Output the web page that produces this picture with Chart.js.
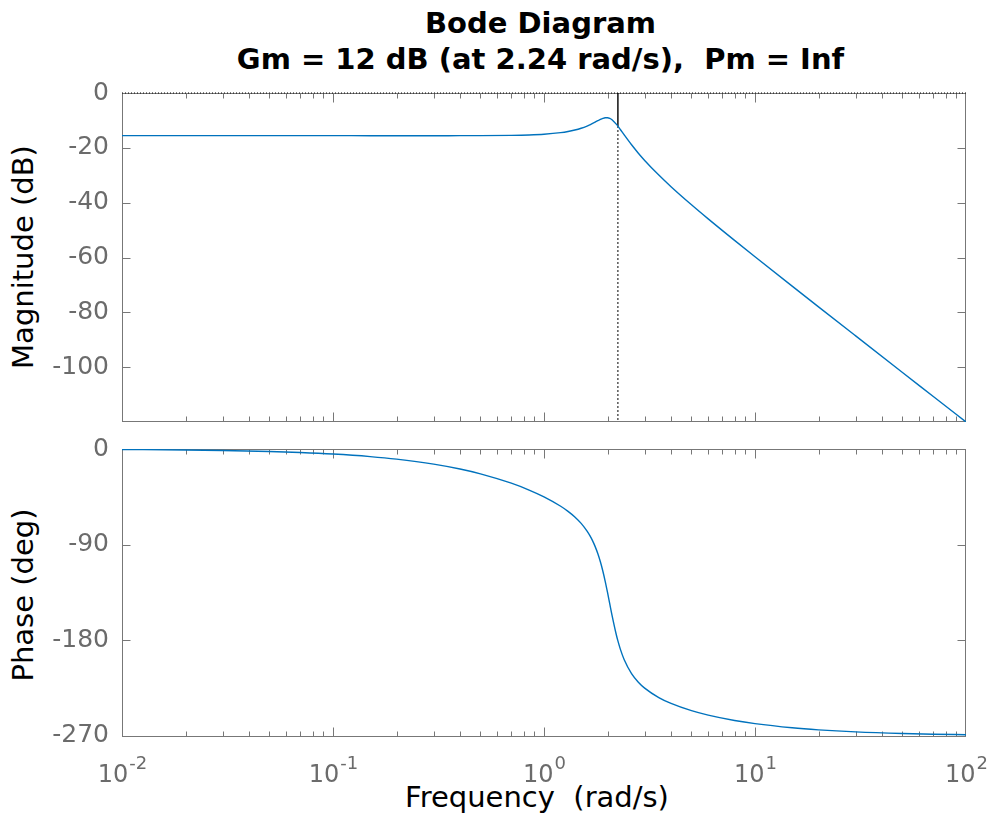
<!DOCTYPE html>
<html>
<head>
<meta charset="utf-8">
<script src="https://cdn.jsdelivr.net/npm/chart.js@4.4.1/dist/chart.umd.min.js"></script>
<style>
  body { margin: 0; background: #fff; width: 993px; height: 818px; overflow: hidden; position: relative; font-family: "DejaVu Sans", sans-serif; }
  canvas { position: absolute; left: 0; top: 0; }
  .title { position: absolute; left: 0; top: 5px; width: 1081px; text-align: center; font-weight: bold; font-size: 29px; line-height: 36px; color: #000; white-space: pre; }
  .lab { position: absolute; font-size: 29px; line-height: 29px; color: #000; white-space: pre; transform: translate(-50%, -50%); }
  .lab.rot { transform: translate(-50%, -50%) rotate(-90deg); }
</style>
</head>
<body>
<div class="title">Bode Diagram<br>Gm = 12 dB (at 2.24 rad/s),  Pm = Inf</div>
<div class="lab rot" style="left:23px; top:257px;">Magnitude (dB)</div>
<div class="lab rot" style="left:23px; top:595px;">Phase (deg)</div>
<div class="lab" style="left:537px; top:797px;">Frequency  (rad/s)</div>
<canvas id="magChart" width="993" height="818"></canvas>
<canvas id="phaseChart" width="993" height="818"></canvas>
<script>
// frequency response
const freq = [0.01, 0.02, 0.03, 0.05, 0.07, 0.1, 0.15, 0.2, 0.3, 0.4, 0.5, 0.7, 0.85, 1, 1.2, 1.3, 1.4, 1.5, 1.6, 1.65, 1.7, 1.75, 1.8, 1.85, 1.9, 1.95, 2.0, 2.05, 2.1, 2.2, 2.24, 2.3, 2.4, 2.6, 2.8, 3, 3.5, 4, 5, 6, 8, 10, 15, 20, 30, 50, 70, 100];
const magDb = [-15.56, -15.56, -15.56, -15.56, -15.56, -15.56, -15.57, -15.57, -15.57, -15.56, -15.55, -15.46, -15.31, -15.05, -14.47, -14.05, -13.51, -12.85, -12.05, -11.59, -11.11, -10.61, -10.11, -9.65, -9.28, -9.05, -9.03, -9.27, -9.77, -11.36, -12.1, -13.31, -15.29, -18.89, -21.96, -24.59, -29.94, -34.17, -40.77, -45.91, -53.76, -59.73, -70.45, -78.0, -88.6, -101.93, -110.7, -120.0];
const phaseDeg = [-0.48, -0.95, -1.43, -2.39, -3.34, -4.77, -7.15, -9.51, -14.2, -18.82, -23.35, -32.16, -38.6, -45, -53.86, -58.67, -63.95, -70.02, -77.3, -81.6, -86.49, -92.11, -98.62, -106.15, -114.8, -124.51, -135, -145.79, -156.28, -174.54, -180.6, -188.29, -198.28, -211.32, -219.4, -225, -233.91, -239.42, -246.25, -250.46, -255.51, -258.46, -262.34, -264.26, -266.18, -267.71, -268.36, -268.85];

// gain margin marker
const gmFreq = 2.24;
const gmMag = -12.04;

// axes
const freqRange = [0.01, 100];
const freqDecades = [0.01, 0.1, 1, 10, 100];
const decadeExps = ["-2", "-1", "0", "1", "2"];
const magRange = [-120, 0];
const magTicks = [0, -20, -40, -60, -80, -100];
const phaseRange = [-271, 0];
const phaseTicks = [0, -90, -180, -270];

const blue = "#0072BD";
const axisColor = "#777777";
const labelColor = "#6b6b6b";
const fontFamily = "'DejaVu Sans', sans-serif";

const xy = (xs, ys) => xs.map((x, i) => ({ x, y: ys[i] }));

const minorTicks = [];
freqDecades.slice(0, -1).forEach((d) => {
  for (let k = 2; k <= 9; k += 1) minorTicks.push(d * k);
});

// box, inward ticks on all four sides, and the exponent-style x labels
const axesBox = {
  id: "axesBox",
  beforeDatasetsDraw(chart, args, opts) {
    const { ctx, chartArea: a, scales } = chart;
    const L = Math.floor(a.left) + 0.5;
    const R = Math.floor(a.right) - 0.5;
    const T = Math.floor(a.top) + 0.5;
    const B = Math.floor(a.bottom) - 0.5;
    ctx.save();
    ctx.strokeStyle = axisColor;
    ctx.lineWidth = 1;
    ctx.strokeRect(L, T, R - L, B - T);
    ctx.beginPath();
    const xTick = (v, len) => {
      let px = Math.round(scales.x.getPixelForValue(v)) + 0.5;
      px = Math.min(Math.max(px, L), R);
      ctx.moveTo(px, B); ctx.lineTo(px, B - len);
      ctx.moveTo(px, T); ctx.lineTo(px, T + len);
    };
    freqDecades.forEach((v) => xTick(v, 9));
    minorTicks.forEach((v) => xTick(v, 5));
    opts.yTicks.forEach((v) => {
      let py = Math.round(scales.y.getPixelForValue(v)) + 0.5;
      py = Math.min(Math.max(py, T), B);
      ctx.moveTo(L, py); ctx.lineTo(L + 8, py);
      ctx.moveTo(R, py); ctx.lineTo(R - 8, py);
    });
    ctx.stroke();
    ctx.restore();
  },
  afterDraw(chart, args, opts) {
    if (!opts.xLabels) return;
    const { ctx, chartArea: a, scales } = chart;
    ctx.save();
    ctx.fillStyle = labelColor;
    ctx.textBaseline = "alphabetic";
    ctx.textAlign = "left";
    freqDecades.forEach((v, i) => {
      const px = scales.x.getPixelForValue(v);
      ctx.font = "24px " + fontFamily;
      const wBase = ctx.measureText("10").width;
      ctx.font = "18px " + fontFamily;
      const wExp = ctx.measureText(decadeExps[i]).width;
      const x0 = px - (wBase + wExp) / 2;
      ctx.font = "24px " + fontFamily;
      ctx.fillText("10", x0, a.bottom + 45);
      ctx.font = "18px " + fontFamily;
      ctx.fillText(decadeExps[i], x0 + wBase + 1, a.bottom + 32);
    });
    ctx.restore();
  }
};

const yAxis = (range, ticks) => ({
  min: range[0],
  max: range[1],
  afterFit: (s) => { s.width = 122; },
  afterBuildTicks: (s) => { s.ticks = ticks.map((value) => ({ value })); },
  grid: { display: false, drawTicks: false },
  border: { display: false },
  ticks: {
    padding: 13,
    color: labelColor,
    font: { family: fontFamily, size: 25 },
    callback: (v) => String(v)
  }
});

const baseOptions = (padding, yScale, boxOpts) => ({
  responsive: false,
  animation: false,
  events: [],
  layout: { padding },
  plugins: { legend: { display: false }, tooltip: { enabled: false }, axesBox: boxOpts },
  elements: { point: { radius: 0 } },
  scales: {
    x: { type: "logarithmic", min: freqRange[0], max: freqRange[1], display: false },
    y: yScale
  }
});

new Chart(document.getElementById("magChart").getContext("2d"), {
  type: "line",
  data: {
    datasets: [
      { data: xy(freq, magDb), borderColor: blue, borderWidth: 1.4, cubicInterpolationMode: "monotone" },
      { data: [{ x: gmFreq, y: 0 }, { x: gmFreq, y: gmMag }], borderColor: "#000", borderWidth: 1.4, clip: false },
      { data: [{ x: gmFreq, y: gmMag }, { x: gmFreq, y: magRange[0] }], borderColor: "#000", borderWidth: 1, borderDash: [2, 2], clip: false },
      { data: [{ x: freqRange[0], y: 0 }, { x: freqRange[1], y: 0 }], borderColor: "#000", borderWidth: 1, borderDash: [1, 2], clip: false }
    ]
  },
  options: baseOptions({ top: 93, right: 27, bottom: 396, left: 0 }, yAxis(magRange, magTicks), { yTicks: magTicks, xLabels: false }),
  plugins: [axesBox]
});

new Chart(document.getElementById("phaseChart").getContext("2d"), {
  type: "line",
  data: {
    datasets: [
      { data: xy(freq, phaseDeg), borderColor: blue, borderWidth: 1.4, cubicInterpolationMode: "monotone" }
    ]
  },
  options: baseOptions({ top: 449, right: 27, bottom: 81, left: 0 }, yAxis(phaseRange, phaseTicks), { yTicks: phaseTicks, xLabels: true }),
  plugins: [axesBox]
});
</script>
</body>
</html>
